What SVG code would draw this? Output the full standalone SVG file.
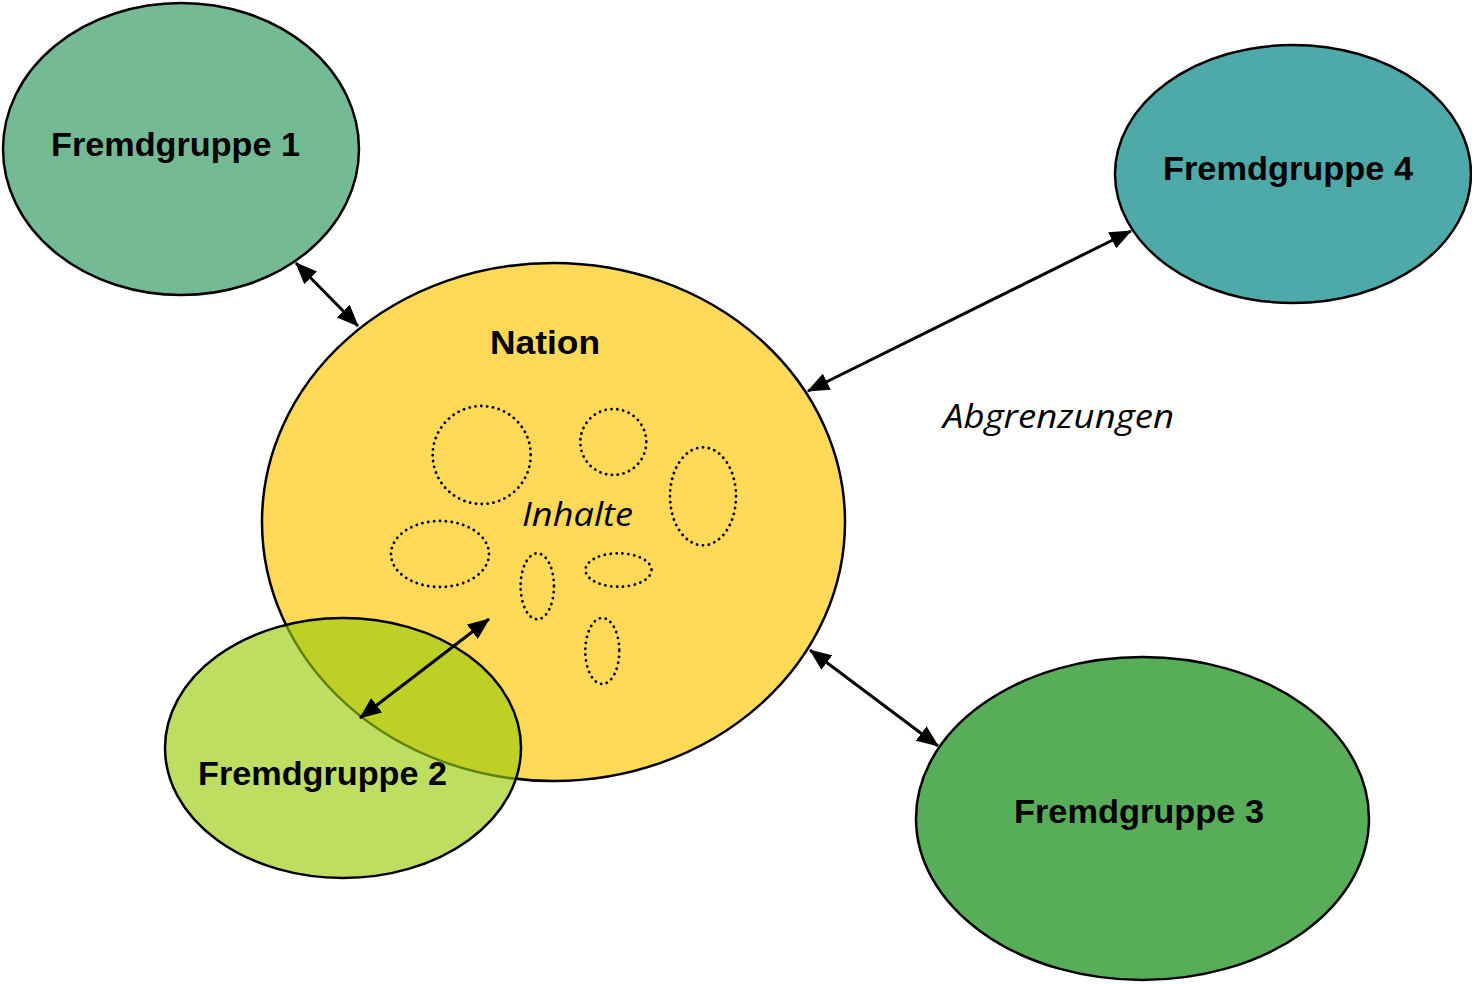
<svg xmlns="http://www.w3.org/2000/svg" width="1472" height="984" viewBox="0 0 1472 984">
<style>
.node{stroke:#000;stroke-width:2.5}
.lbl{font-family:"Liberation Sans",Arial,sans-serif;font-weight:bold;font-size:33px;fill:#000}
.it{font-family:"Open Sans","Liberation Sans",sans-serif;font-style:italic;font-size:32px;fill:#000}
.dot{fill:none;stroke:#000;stroke-width:2.8;stroke-dasharray:0.1 5.8;stroke-linecap:round}
.con{stroke:#000;stroke-width:3;fill:none;marker-start:url(#ah);marker-end:url(#ah)}
</style>
<defs>
<marker id="ah" viewBox="0 0 22 18" refX="21" refY="9" markerWidth="22" markerHeight="18" markerUnits="userSpaceOnUse" orient="auto-start-reverse">
<path d="M0,0 L22,9 L0,18 z" fill="#000"/>
</marker>
</defs>
<rect width="1472" height="984" fill="#fff"/>
<g id="fremdgruppe1">
<ellipse class="node" cx="181" cy="149" rx="178" ry="146" fill="#74BB95"/>
<text class="lbl" x="51" y="156" textLength="249" lengthAdjust="spacingAndGlyphs">Fremdgruppe 1</text>
</g>
<g id="fremdgruppe4">
<ellipse class="node" cx="1293" cy="174" rx="178" ry="129" fill="#4EA9A9"/>
<text class="lbl" x="1163" y="180" textLength="250" lengthAdjust="spacingAndGlyphs">Fremdgruppe 4</text>
</g>
<g id="fremdgruppe3">
<ellipse class="node" cx="1142.5" cy="818.5" rx="226.5" ry="161.5" fill="#58AE58"/>
<text class="lbl" x="1014" y="823" textLength="250" lengthAdjust="spacingAndGlyphs">Fremdgruppe 3</text>
</g>
<g id="nation">
<ellipse class="node" cx="553.5" cy="522" rx="291.5" ry="259" fill="#FFD957"/>
<text class="lbl" x="490" y="354" textLength="110" lengthAdjust="spacingAndGlyphs">Nation</text>
<ellipse class="dot" cx="481.7" cy="455" rx="49" ry="49"/>
<ellipse class="dot" cx="613.3" cy="442" rx="33" ry="33"/>
<ellipse class="dot" cx="703" cy="496.3" rx="33" ry="49"/>
<ellipse class="dot" cx="440" cy="554" rx="49" ry="33"/>
<ellipse class="dot" cx="537.3" cy="586.3" rx="16.7" ry="33"/>
<ellipse class="dot" cx="618.5" cy="570" rx="33" ry="16.7"/>
<ellipse class="dot" cx="602.3" cy="651" rx="17" ry="33"/>
<text class="it" x="522" y="526" textLength="111" lengthAdjust="spacingAndGlyphs">Inhalte</text>
</g>
<g id="fremdgruppe2">
<ellipse class="node" cx="343" cy="748" rx="178" ry="130" fill="#9ACC0A" fill-opacity="0.64"/>
<text class="lbl" x="198" y="785" textLength="249" lengthAdjust="spacingAndGlyphs">Fremdgruppe 2</text>
</g>
<g id="abgrenzungen">
<text class="it" x="943" y="428" textLength="231" lengthAdjust="spacingAndGlyphs">Abgrenzungen</text>
</g>
<g id="connectors">
<line class="con" x1="296" y1="263" x2="358" y2="326"/>
<line class="con" x1="808" y1="391" x2="1131" y2="231"/>
<line class="con" x1="810" y1="650" x2="938" y2="746"/>
<line class="con" x1="360" y1="718" x2="489" y2="619"/>
</g>
</svg>
